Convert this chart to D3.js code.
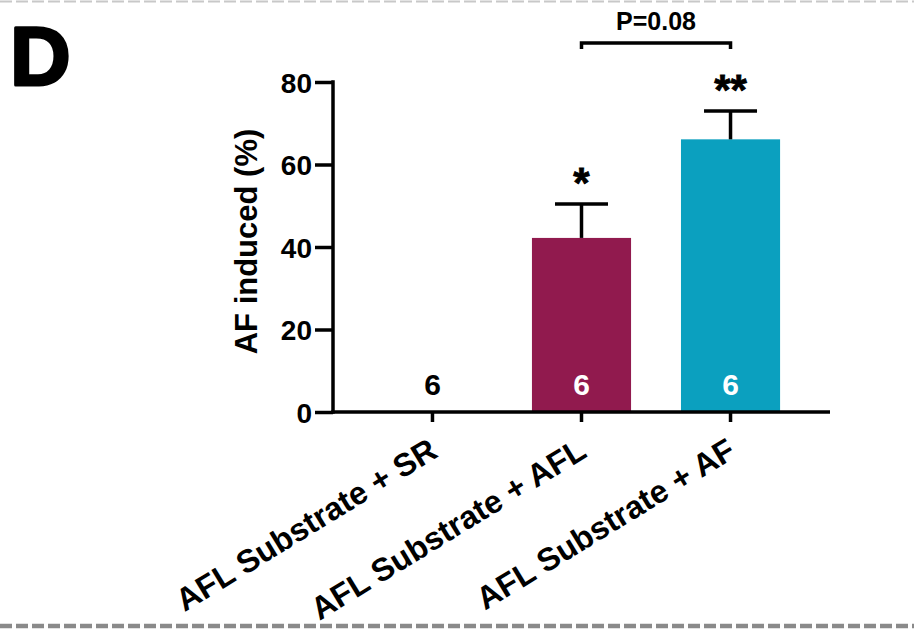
<!DOCTYPE html>
<html>
<head>
<meta charset="utf-8">
<script src="https://cdn.jsdelivr.net/npm/d3@7"></script>
<style>
  html, body { margin: 0; padding: 0; background: #fff; }
  svg { display: block; font-family: "Liberation Sans", Arial, sans-serif; font-weight: bold; }
</style>
</head>
<body>
<svg id="chart" width="914" height="636"></svg>
<script>
const categories = ["AFL Substrate + SR", "AFL Substrate + AFL", "AFL Substrate + AF"];
const means = [0, 42.2, 66.1];
const sems = [0, 8.2, 6.9];
const counts = ["6", "6", "6"];
const sigMarks = ["", "*", "**"];
const barColors = ["#ffffff", "#911A4E", "#0BA0BF"];
const countColors = ["#000000", "#ffffff", "#ffffff"];
const yTicks = [0, 20, 40, 60, 80];
const yTitle = "AF induced (%)";
const panelLetter = "D";
const comparison = { from: 1, to: 2, label: "P=0.08" };

const svg = d3.select("#chart");
const W = 914, H = 636;

// dashed frame lines
svg.append("line").attr("x1", 0).attr("x2", W).attr("y1", 1.5).attr("y2", 1.5)
  .attr("stroke", "#c8c8c8").attr("stroke-width", 2).attr("stroke-dasharray", "12,4");
svg.append("line").attr("x1", 0).attr("x2", W).attr("y1", 626).attr("y2", 626)
  .attr("stroke", "#8a8a8a").attr("stroke-width", 4.5).attr("stroke-dasharray", "12,4");

// panel letter
svg.append("text").attr("x", 10).attr("y", 85).attr("font-size", 84).attr("font-weight", 900)
  .attr("fill", "#000").attr("stroke", "#000").attr("stroke-width", 3).attr("stroke-linejoin", "round")
  .text(panelLetter);

const x = d3.scaleBand().domain(categories).range([333, 830]).paddingInner(0.335).paddingOuter(0.335);
const y = d3.scaleLinear().domain([0, 80]).range([412, 82]);
const axisColor = "#000";
const sw = 3.5;

// bars
svg.selectAll("rect.bar").data(categories).enter().append("rect")
  .attr("class", "bar")
  .attr("x", d => x(d))
  .attr("width", x.bandwidth())
  .attr("y", (d, i) => y(means[i]))
  .attr("height", (d, i) => y(0) - y(means[i]))
  .attr("fill", (d, i) => barColors[i]);

// error bars
categories.forEach((c, i) => {
  if (sems[i] <= 0) return;
  const cx = x(c) + x.bandwidth() / 2;
  const g = svg.append("g").attr("stroke", "#000").attr("stroke-width", sw);
  g.append("line").attr("x1", cx).attr("x2", cx).attr("y1", y(means[i])).attr("y2", y(means[i] + sems[i]));
  g.append("line").attr("x1", cx - 26.5).attr("x2", cx + 26.5).attr("y1", y(means[i] + sems[i])).attr("y2", y(means[i] + sems[i]));
  svg.append("text").attr("x", cx).attr("y", y(means[i] + sems[i]) - 7)
    .attr("text-anchor", "middle").attr("font-size", 42).attr("fill", "#000")
    .attr("stroke", "#000").attr("stroke-width", 0.8).text(sigMarks[i]);
});

// count labels
categories.forEach((c, i) => {
  const cx = x(c) + x.bandwidth() / 2;
  svg.append("text").attr("x", cx).attr("y", 395).attr("text-anchor", "middle")
    .attr("font-size", 30).attr("fill", countColors[i]).text(counts[i]);
});

// y axis
const yAxis = d3.axisLeft(y).tickValues(yTicks).tickSize(18).tickPadding(3).tickSizeOuter(0);
const gy = svg.append("g").attr("transform", "translate(333,0)").call(yAxis);
gy.select(".domain").remove();
gy.append("line").attr("x1", 0).attr("x2", 0).attr("y1", y(80) - sw / 2).attr("y2", y(0) + sw / 2)
  .attr("stroke", axisColor).attr("stroke-width", sw);
gy.selectAll(".tick line").attr("stroke", axisColor).attr("stroke-width", sw);
gy.selectAll(".tick text").attr("font-size", 28).attr("font-family", "'Liberation Sans', Arial, sans-serif")
  .attr("font-weight", "bold").attr("fill", "#000").attr("dy", "0.36em");

// x axis
const xAxis = d3.axisBottom(x).tickSize(10).tickSizeOuter(0).tickFormat("");
const gx = svg.append("g").attr("transform", "translate(0,412)").call(xAxis);
gx.select(".domain").remove();
gx.append("line").attr("x1", 333 - sw / 2).attr("x2", 830).attr("y1", 0).attr("y2", 0)
  .attr("stroke", axisColor).attr("stroke-width", sw);
gx.selectAll(".tick line").attr("stroke", axisColor).attr("stroke-width", sw);

// category labels
categories.forEach(c => {
  const cx = x(c) + x.bandwidth() / 2;
  svg.append("text").attr("transform", `translate(${cx + 7},456) rotate(-31.5)`)
    .attr("text-anchor", "end").attr("font-size", 32).attr("fill", "#000").text(c);
});

// y title
svg.append("text").attr("transform", "translate(257,241.5) rotate(-90)")
  .attr("text-anchor", "middle").attr("font-size", 31).attr("fill", "#000").text(yTitle);

// comparison bracket
const bx1 = x(categories[comparison.from]) + x.bandwidth() / 2;
const bx2 = x(categories[comparison.to]) + x.bandwidth() / 2;
svg.append("path").attr("d", `M${bx1},49 V43 H${bx2} V49`).attr("fill", "none")
  .attr("stroke", "#000").attr("stroke-width", sw);
svg.append("text").attr("x", (bx1 + bx2) / 2).attr("y", 30).attr("text-anchor", "middle")
  .attr("font-size", 25).attr("fill", "#000").text(comparison.label);
</script>
</body>
</html>
